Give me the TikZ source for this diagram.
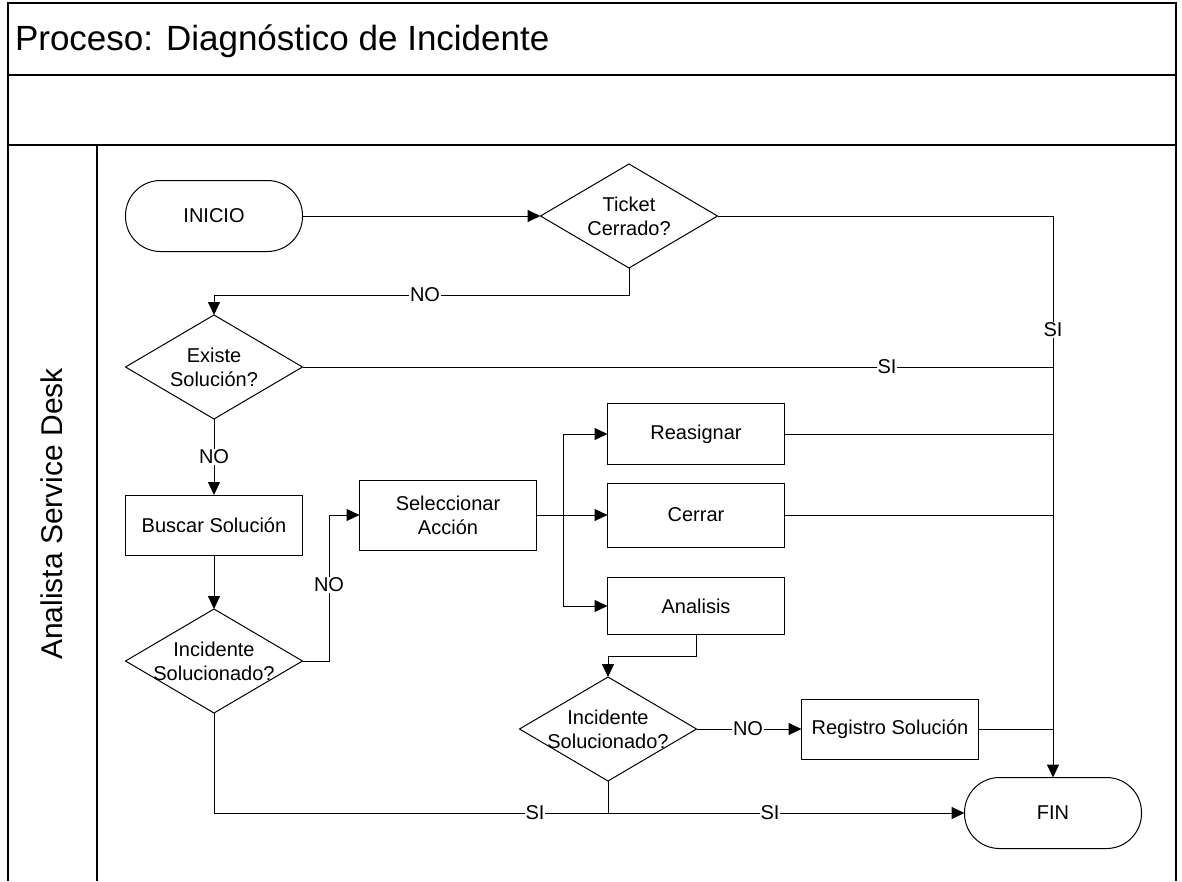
\documentclass[tikz,border=0pt]{standalone}
\usepackage{fontspec}
\setmainfont{Liberation Sans}
\usetikzlibrary{arrows.meta}
\begin{document}
\begin{tikzpicture}[x=1pt,y=-1pt,
  every node/.style={inner sep=0pt, outer sep=0pt},
  txt/.style={font=\fontsize{20}{24}\selectfont, align=center},
  stepbox/.style={txt, draw, line width=1pt, minimum width=177pt},
  terminal/.style={txt, draw, line width=1pt, rounded corners=35pt,
    minimum width=177pt, minimum height=71pt},
  decision/.style={txt, minimum width=177pt, minimum height=104pt},
  lbl/.style={font=\fontsize{20}{24}\selectfont, fill=white, inner sep=1pt},
  link/.style={line width=1pt},
  arr/.style={link, -{Triangle[length=13pt,width=12pt]}},
  frame/.style={line width=1.3pt}]
\useasboundingbox (0,0) rectangle (1182,881);

% pool frame and lane
\draw[frame] (8,881) -- (8,3) -- (1176,3) -- (1176,881);
\draw[frame] (8,75) -- (1176,75);
\draw[frame] (8,145) -- (1176,145);
\draw[frame] (97,145) -- (97,881);
\node[anchor=base west, font=\fontsize{35}{42}\selectfont] (title) at (15,50)
  {Proceso: Diagnóstico de Incidente};
\node[rotate=90, font=\fontsize{30}{36}\selectfont] (lane) at (52,514)
  {Analista Service Desk};

% nodes
\node[terminal] (inicio) at (214,216) {INICIO};
\node[decision] (ticket) at (629,216) {Ticket\\Cerrado?};
\node[decision] (existe) at (214,367) {Existe\\Solución?};
\node[stepbox, minimum height=60pt] (buscar) at (214,525) {Buscar Solución};
\node[decision] (inc1) at (214,661) {Incidente\\Solucionado?};
\node[stepbox, minimum height=70pt] (selec) at (448,515) {Seleccionar\\Acción};
\node[stepbox, minimum height=61pt] (reas) at (696,434) {Reasignar};
\node[stepbox, minimum height=64pt] (cerrar) at (696,515) {Cerrar};
\node[stepbox, minimum height=57pt] (analisis) at (696,606) {Analisis};
\node[decision] (inc2) at (608,729) {Incidente\\Solucionado?};
\node[stepbox, minimum height=60pt] (registro) at (890,729) {Registro Solución};
\node[terminal] (fin) at (1053,813) {FIN};

% diamond outlines
\foreach \d in {ticket,existe,inc1,inc2}
  \draw[link] (\d.north) -- (\d.east) -- (\d.south) -- (\d.west) -- cycle;

% routing points
\coordinate (nojoin) at (629,295);
\coordinate (incjoin) at (329,661);
\coordinate (branch) at (563,515);
\coordinate (anjoin) at (696,656);

% connectors
\draw[arr] (inicio.east) -- (ticket.west);
\draw[arr] (ticket.east) -| (fin.north);
\draw[arr] (ticket.south) -- (nojoin) -| (existe.north);
\draw[link] (existe.east) -- (existe.east -| fin.north);
\draw[arr] (existe.south) -- (buscar.north);
\draw[arr] (buscar.south) -- (inc1.north);
\draw[arr] (inc1.east) -- (incjoin) |- (selec.west);
\draw[arr] (selec.east) -- (cerrar.west);
\draw[arr] (branch) |- (reas.west);
\draw[arr] (branch) |- (analisis.west);
\draw[link] (reas.east) -- (reas.east -| fin.north);
\draw[link] (cerrar.east) -- (cerrar.east -| fin.north);
\draw[arr] (analisis.south) -- (anjoin) -| (inc2.north);
\draw[arr] (inc2.east) -- (registro.west);
\draw[link] (registro.east) -- (registro.east -| fin.north);
\draw[arr] (inc1.south) |- (fin.west);
\draw[link] (inc2.south) -- (inc2.south |- fin.west);

% connector labels
\node[lbl] (l1) at (1053,330) {SI};
\node[lbl] (l2) at (425,295) {NO};
\node[lbl] (l3) at (887,367) {SI};
\node[lbl] (l4) at (214,457) {NO};
\node[lbl] (l5) at (329,585) {NO};
\node[lbl] (l6) at (748,729) {NO};
\node[lbl] (l7) at (535,813) {SI};
\node[lbl] (l8) at (770,813) {SI};
\end{tikzpicture}
\end{document}
